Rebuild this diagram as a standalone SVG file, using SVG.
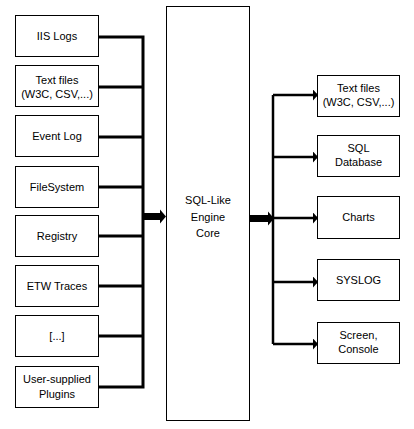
<svg xmlns="http://www.w3.org/2000/svg" width="414" height="429" viewBox="0 0 414 429">
<style>
.box{fill:#fff;stroke:#000;stroke-width:1}
.t{font-family:"Liberation Sans",Arial,sans-serif;font-size:11px;fill:#000;text-anchor:middle}
.c{fill:none;stroke:#000;stroke-width:3}
.cr{fill:none;stroke:#000;stroke-width:2.5}
</style>
<defs>
<marker id="ah" markerUnits="userSpaceOnUse" markerWidth="6" markerHeight="11" refX="5" refY="5.5" orient="auto">
<path d="M0,0 L5,5.5 L0,11 z" fill="#000"/>
</marker>
</defs>
<rect width="414" height="429" fill="#fff"/>
<g id="connectors">
<path class="c" d="M98,37 H143 M98,87 H143 M98,137 H143 M98,187 H143 M98,236 H143 M98,286 H143 M98,336 H143 M98,387 H143 M143,35.5 V388.5"/>
<rect x="143" y="213" width="18" height="7" fill="#000"/>
<polygon points="160,209.5 166,216.5 160,223.5" fill="#000"/>
<rect x="250" y="215" width="19" height="7" fill="#000"/>
<polygon points="268,211.5 274,218.5 268,225.5" fill="#000"/>
<path class="cr" d="M273,95 V344"/>
<path class="cr" marker-end="url(#ah)" d="M273,95 H318"/>
<path class="cr" marker-end="url(#ah)" d="M273,157 H318"/>
<path class="cr" marker-end="url(#ah)" d="M273,218 H318"/>
<path class="cr" marker-end="url(#ah)" d="M273,282 H318"/>
<path class="cr" marker-end="url(#ah)" d="M273,344 H318"/>
</g>
<g id="iis"><rect class="box" x="15.5" y="15.5" width="83" height="41"/><text class="t" x="57" y="40">IIS Logs</text></g>
<g id="textin"><rect class="box" x="15.5" y="65.5" width="83" height="41"/><text class="t" x="57" y="84">Text files</text><text class="t" x="57" y="98">(W3C, CSV,...)</text></g>
<g id="eventlog"><rect class="box" x="15.5" y="115.5" width="83" height="41"/><text class="t" x="57" y="140">Event Log</text></g>
<g id="filesystem"><rect class="box" x="15.5" y="166.5" width="83" height="41"/><text class="t" x="57" y="191">FileSystem</text></g>
<g id="registry"><rect class="box" x="15.5" y="215.5" width="83" height="41"/><text class="t" x="57" y="240">Registry</text></g>
<g id="etw"><rect class="box" x="15.5" y="265.5" width="83" height="41"/><text class="t" x="57" y="290">ETW  Traces</text></g>
<g id="more"><rect class="box" x="15.5" y="315.5" width="83" height="41"/><text class="t" x="57" y="340">[...]</text></g>
<g id="plugins"><rect class="box" x="15.5" y="366.5" width="83" height="41"/><text class="t" x="57" y="383">User-supplied</text><text class="t" x="57" y="398">Plugins</text></g>
<g id="engine"><rect class="box" x="166.5" y="6.5" width="83" height="414"/><text class="t" x="208" y="204">SQL-Like</text><text class="t" x="208" y="221">Engine</text><text class="t" x="208" y="237">Core</text></g>
<g id="textout"><rect class="box" x="317.5" y="75.5" width="82" height="41"/><text class="t" x="358.5" y="92">Text files</text><text class="t" x="358.5" y="106">(W3C, CSV,...)</text></g>
<g id="sqldb"><rect class="box" x="317.5" y="135.5" width="82" height="41"/><text class="t" x="358.5" y="152">SQL</text><text class="t" x="358.5" y="166">Database</text></g>
<g id="charts"><rect class="box" x="317.5" y="196.5" width="82" height="42"/><text class="t" x="358.5" y="221">Charts</text></g>
<g id="syslog"><rect class="box" x="317.5" y="259.5" width="82" height="41"/><text class="t" x="358.5" y="284">SYSLOG</text></g>
<g id="screen"><rect class="box" x="317.5" y="322.5" width="82" height="41"/><text class="t" x="358.5" y="339">Screen,</text><text class="t" x="358.5" y="353">Console</text></g>
</svg>
